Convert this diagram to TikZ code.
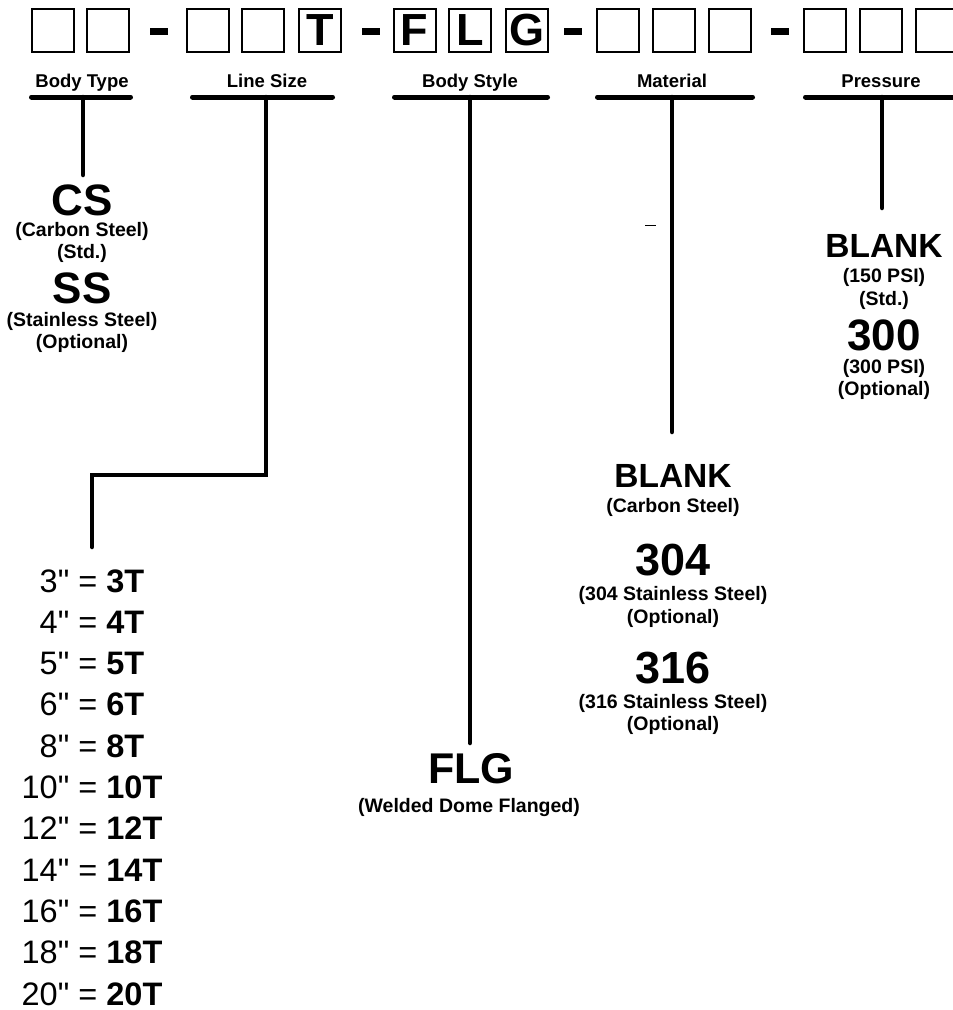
\documentclass[tikz,border=0pt]{standalone}
\usepackage{fontspec}
\setmainfont{Liberation Sans}[Ligatures=TeXOff]
\begin{document}
\begin{tikzpicture}[x=1pt,y=-1pt,
    cell/.style={draw,line width=2pt,minimum width=42pt,minimum height=43pt,inner sep=0pt,font=\fontsize{45}{45}\selectfont\bfseries},
    hyph/.style={fill,minimum width=18pt,minimum height=7pt,inner sep=0pt},
    head/.style={anchor=base,inner sep=0pt,font=\fontsize{18.5}{20}\selectfont\bfseries},
    code/.style={anchor=base,inner sep=0pt,font=\fontsize{44}{44}\selectfont\bfseries},
    blank/.style={anchor=base,inner sep=0pt,font=\fontsize{33.5}{34}\selectfont\bfseries},
    note/.style={anchor=base,inner sep=0pt,font=\fontsize{19.5}{20}\selectfont\bfseries},
    size/.style={anchor=base,inner sep=0pt,font=\fontsize{32.5}{33}\selectfont},
    bar/.style={line width=5pt,line cap=round},
    stem/.style={line width=4.5pt,line cap=round}]
  \clip (0,0) rectangle (953,1010);
  \draw
    (53,30.5) node[cell] (c1){}
    (107.5,30.5) node[cell] (c2){}
    (159,31.5) node[hyph] (h1){}
    (207.5,30.5) node[cell] (c3){}
    (263,30.5) node[cell] (c4){}
    (320,30.5) node[cell] (c5){T}
    (370.5,31.5) node[hyph] (h2){}
    (414.5,30.5) node[cell] (c6){F}
    (470,30.5) node[cell] (c7){L}
    (526.5,30.5) node[cell] (c8){G}
    (572.5,31.5) node[hyph] (h3){}
    (617.5,30.5) node[cell] (c9){}
    (674,30.5) node[cell] (c10){}
    (730,30.5) node[cell] (c11){}
    (780,31.5) node[hyph] (h4){}
    (825,30.5) node[cell] (c12){}
    (881,30.5) node[cell] (c13){}
    (937,30.5) node[cell] (c14){};
  \draw
    (82,87) node[head] (type){Body Type}
    (267,87) node[head] (line){Line Size}
    (470,87) node[head] (style){Body Style}
    (672,87) node[head] (mat){Material}
    (881,87) node[head] (pres){Pressure};
  \draw
    (82,215) node[code] (cs){CS}
    (82,236) node[note] (cs1){(Carbon Steel)}
    (82,258) node[note] (cs2){(Std.)}
    (82,303) node[code] (ss){SS}
    (82,326) node[note] (ss1){(Stainless Steel)}
    (82,348) node[note] (ss2){(Optional)};
  \draw
    (92,592) node[size] (s3){3" = \textbf{3T}}
    (92,633.3) node[size] (s4){4" = \textbf{4T}}
    (92,674.6) node[size] (s5){5" = \textbf{5T}}
    (92,715.9) node[size] (s6){6" = \textbf{6T}}
    (92,757.2) node[size] (s8){8" = \textbf{8T}}
    (92,798.5) node[size] (s10){10" = \textbf{10T}}
    (92,839.8) node[size] (s12){12" = \textbf{12T}}
    (92,881.1) node[size] (s14){14" = \textbf{14T}}
    (92,922.4) node[size] (s16){16" = \textbf{16T}}
    (92,963.7) node[size] (s18){18" = \textbf{18T}}
    (92,1005) node[size] (s20){20" = \textbf{20T}};
  \draw
    (471,783) node[code,font=\fontsize{43}{43}\selectfont\bfseries] (flg){FLG}
    (469,812) node[note] (flg1){(Welded Dome Flanged)};
  \draw
    (673,487) node[blank] (mb){BLANK}
    (673,512) node[note] (mb1){(Carbon Steel)}
    (673,575) node[code,font=\fontsize{45}{45}\selectfont\bfseries] (m304){304}
    (673,600) node[note] (m3041){(304 Stainless Steel)}
    (673,623) node[note] (m3042){(Optional)}
    (673,683) node[code,font=\fontsize{45}{45}\selectfont\bfseries] (m316){316}
    (673,708) node[note] (m3161){(316 Stainless Steel)}
    (673,730) node[note] (m3162){(Optional)};
  \draw
    (884,257) node[blank] (pb){BLANK}
    (884,282) node[note] (pb1){(150 PSI)}
    (884,305) node[note] (pb2){(Std.)}
    (884,350) node[code] (p300){300}
    (884,373) node[note] (p3001){(300 PSI)}
    (884,395) node[note] (p3002){(Optional)};
  \coordinate (typea) at (31.5,97);
  \coordinate (typeb) at (130.5,97);
  \coordinate (linea) at (192.5,97);
  \coordinate (lineb) at (332.5,97);
  \coordinate (stylea) at (394.5,97);
  \coordinate (styleb) at (547.5,97);
  \coordinate (mata) at (597.5,97);
  \coordinate (matb) at (752.5,97);
  \coordinate (presa) at (805.5,97);
  \coordinate (presb) at (960,97);
  \coordinate (matend) at (672,432);
  \begin{scope}[bar]
    \draw (typea) to (typeb);
    \draw (linea) to (lineb);
    \draw (stylea) to (styleb);
    \draw (mata) to (matb);
    \draw (presa) to (presb);
  \end{scope}
  \begin{scope}[stem]
    \draw (83,97) to (83,175);
    \draw (266,97) |- (92,475) -- (92,547);
    \draw (470,97) to (470,743);
    \draw (672,97) to (matend);
    \draw (882,97) to (882,208);
  \end{scope}
  \draw[line width=0.8pt] (645,225.5) -- (656,225.5);
\end{tikzpicture}
\end{document}
